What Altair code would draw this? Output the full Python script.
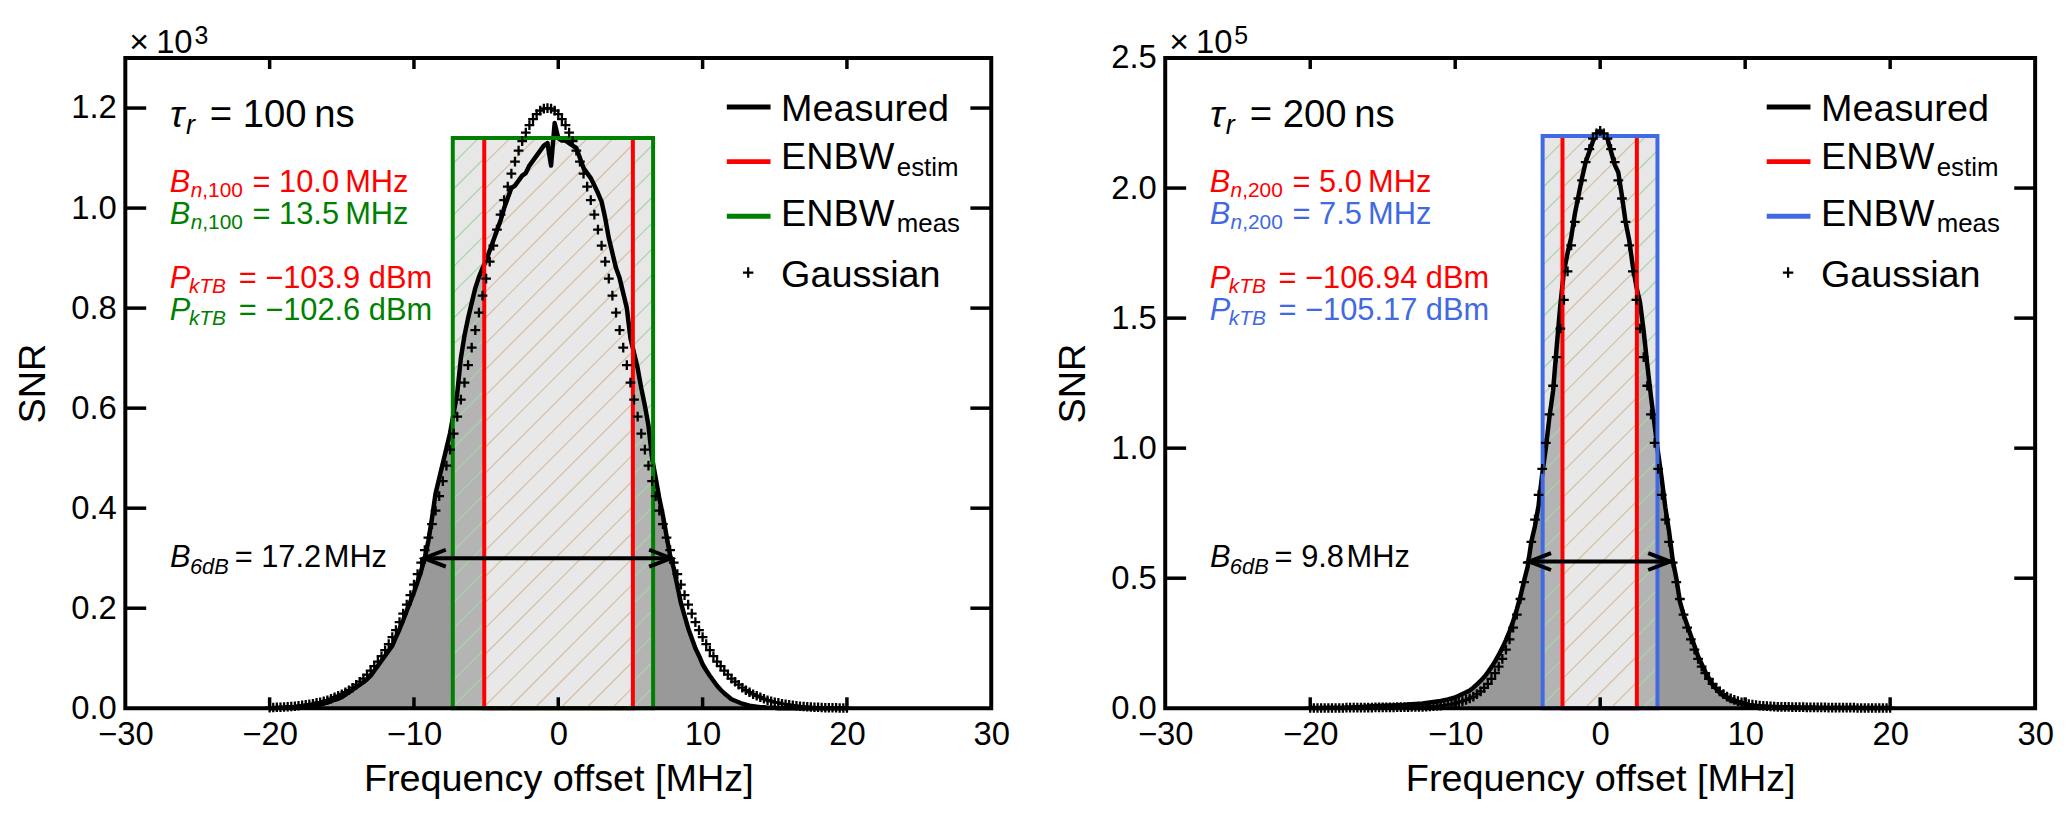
import altair as alt
import pandas as pd

# ---------------- data ----------------
X_START = -20.0   # first sample of traces [MHz]
X_STEP = 0.25     # sample spacing [MHz]

# tau_r = 100 ns  (SNR in units of 1e3)
MEAS_100 = [
    0.0, 0.0, 0.001, 0.001, 0.001, 0.002, 0.002, 0.002, 0.003, 0.003,
    0.004, 0.005, 0.006, 0.007, 0.008, 0.010, 0.012, 0.014, 0.017, 0.019,
    0.022, 0.027, 0.032, 0.037, 0.042, 0.047, 0.052, 0.058, 0.065, 0.075,
    0.085, 0.095, 0.105, 0.115, 0.125, 0.142, 0.158, 0.176, 0.195, 0.213,
    0.232, 0.253, 0.275, 0.300, 0.335, 0.380, 0.430, 0.460, 0.490, 0.520,
    0.550, 0.590, 0.630, 0.700, 0.745, 0.780, 0.810, 0.840, 0.862, 0.880,
    0.895, 0.915, 0.935, 0.955, 0.975, 1.000, 1.020, 1.040, 1.045, 1.055,
    1.065, 1.070, 1.085, 1.095, 1.105, 1.115, 1.125, 1.130, 1.085, 1.170,
    1.140, 1.135, 1.135, 1.130, 1.125, 1.120, 1.100, 1.080, 1.070, 1.060,
    1.045, 1.030, 1.013, 0.980, 0.940, 0.910, 0.880, 0.860, 0.830, 0.800,
    0.740, 0.710, 0.680, 0.640, 0.605, 0.565, 0.500, 0.460, 0.420, 0.385,
    0.345, 0.305, 0.280, 0.245, 0.210, 0.185, 0.160, 0.140, 0.120, 0.105,
    0.088, 0.076, 0.065, 0.055, 0.045, 0.037, 0.030, 0.024, 0.018, 0.015,
    0.012, 0.009, 0.007, 0.005, 0.004, 0.003, 0.002, 0.002, 0.001, 0.001,
    0.001, 0.0, 0.0, 0.0, 0.0, 0.0, 0.0, 0.0, 0.0, 0.0,
    0.0, 0.0, 0.0, 0.0, 0.0, 0.0, 0.0, 0.0, 0.0, 0.0,
    0.0,
]
GAUSS_100 = [
    0.001, 0.0015, 0.002, 0.002, 0.0025, 0.003, 0.0035, 0.004, 0.005, 0.006,
    0.007, 0.008, 0.009, 0.011, 0.012, 0.014, 0.016, 0.019, 0.022, 0.025,
    0.028, 0.032, 0.036, 0.041, 0.047, 0.053, 0.059, 0.067, 0.075, 0.084,
    0.093, 0.104, 0.116, 0.128, 0.142, 0.156, 0.172, 0.189, 0.207, 0.226,
    0.247, 0.268, 0.291, 0.316, 0.341, 0.368, 0.395, 0.424, 0.454, 0.485,
    0.517, 0.549, 0.583, 0.617, 0.651, 0.686, 0.721, 0.756, 0.791, 0.825,
    0.859, 0.893, 0.925, 0.957, 0.987, 1.016, 1.043, 1.069, 1.093, 1.115,
    1.134, 1.151, 1.166, 1.178, 1.188, 1.195, 1.199, 1.200, 1.199, 1.195,
    1.188, 1.178, 1.166, 1.151, 1.134, 1.115, 1.093, 1.069, 1.043, 1.016,
    0.987, 0.957, 0.925, 0.893, 0.859, 0.825, 0.791, 0.756, 0.721, 0.686,
    0.651, 0.617, 0.583, 0.549, 0.517, 0.485, 0.454, 0.424, 0.395, 0.368,
    0.341, 0.316, 0.291, 0.268, 0.247, 0.226, 0.207, 0.189, 0.172, 0.156,
    0.142, 0.128, 0.116, 0.104, 0.093, 0.084, 0.075, 0.067, 0.059, 0.053,
    0.047, 0.041, 0.036, 0.032, 0.028, 0.025, 0.022, 0.019, 0.016, 0.014,
    0.012, 0.011, 0.009, 0.008, 0.007, 0.006, 0.005, 0.004, 0.0035, 0.003,
    0.0025, 0.002, 0.002, 0.0015, 0.001, 0.001, 0.001, 0.001, 0.0005, 0.0005,
    0.0005,
]

# tau_r = 200 ns  (SNR in units of 1e5)
MEAS_200 = [
    0.001, 0.001, 0.001, 0.001, 0.002, 0.002, 0.002, 0.002, 0.002, 0.002,
    0.003, 0.003, 0.004, 0.004, 0.005, 0.006, 0.007, 0.008, 0.009, 0.009,
    0.010, 0.010, 0.011, 0.011, 0.012, 0.012, 0.013, 0.014, 0.015, 0.016,
    0.017, 0.018, 0.020, 0.022, 0.024, 0.026, 0.028, 0.031, 0.034, 0.038,
    0.042, 0.048, 0.055, 0.061, 0.068, 0.079, 0.092, 0.105, 0.120, 0.138,
    0.158, 0.180, 0.205, 0.232, 0.262, 0.296, 0.335, 0.380, 0.430, 0.490,
    0.545, 0.640, 0.700, 0.780, 0.900, 1.000, 1.120, 1.220, 1.390, 1.550,
    1.680, 1.750, 1.810, 1.900, 1.970, 2.040, 2.100, 2.140, 2.180, 2.210,
    2.220, 2.200, 2.190, 2.140, 2.090, 2.060, 1.970, 1.870, 1.800, 1.700,
    1.620, 1.560, 1.450, 1.320, 1.200, 1.090, 0.980, 0.880, 0.770, 0.680,
    0.570, 0.500, 0.410, 0.360, 0.320, 0.280, 0.240, 0.200, 0.170, 0.140,
    0.115, 0.090, 0.075, 0.060, 0.048, 0.040, 0.030, 0.026, 0.022, 0.018,
    0.015, 0.012, 0.010, 0.009, 0.008, 0.007, 0.006, 0.006, 0.005, 0.005,
    0.004, 0.004, 0.004, 0.004, 0.003, 0.003, 0.003, 0.003, 0.003, 0.003,
    0.002, 0.002, 0.002, 0.002, 0.002, 0.002, 0.002, 0.002, 0.002, 0.002,
    0.002, 0.002, 0.001, 0.001, 0.001, 0.001, 0.001, 0.001, 0.001, 0.001,
    0.001,
]
GAUSS_200 = [
    0.001, 0.001, 0.001, 0.001, 0.001, 0.001, 0.001, 0.001, 0.001, 0.001,
    0.002, 0.002, 0.002, 0.002, 0.002, 0.002, 0.002, 0.002, 0.003, 0.003,
    0.003, 0.003, 0.003, 0.003, 0.004, 0.004, 0.004, 0.004, 0.005, 0.005,
    0.005, 0.005, 0.006, 0.007, 0.008, 0.009, 0.010, 0.012, 0.014, 0.016,
    0.019, 0.023, 0.027, 0.032, 0.038, 0.045, 0.054, 0.065, 0.078, 0.094,
    0.113, 0.135, 0.160, 0.190, 0.225, 0.265, 0.310, 0.360, 0.420, 0.485,
    0.560, 0.640, 0.725, 0.820, 0.920, 1.020, 1.130, 1.240, 1.350, 1.460,
    1.570, 1.680, 1.780, 1.870, 1.960, 2.030, 2.100, 2.150, 2.190, 2.210,
    2.220,
    2.210, 2.190, 2.150, 2.100, 2.030, 1.960, 1.870, 1.780, 1.680, 1.570,
    1.460, 1.350, 1.240, 1.130, 1.020, 0.920, 0.820, 0.725, 0.640, 0.560,
    0.485, 0.420, 0.360, 0.310, 0.265, 0.225, 0.190, 0.160, 0.135, 0.113,
    0.094, 0.078, 0.065, 0.054, 0.045, 0.038, 0.032, 0.027, 0.023, 0.019,
    0.016, 0.014, 0.012, 0.010, 0.009, 0.008, 0.007, 0.006, 0.005, 0.005,
    0.005, 0.005, 0.004, 0.004, 0.004, 0.004, 0.003, 0.003, 0.003, 0.003,
    0.003, 0.003, 0.002, 0.002, 0.002, 0.002, 0.002, 0.002, 0.002, 0.002,
    0.001, 0.001, 0.001, 0.001, 0.001, 0.001, 0.001, 0.001, 0.001, 0.001,
]

X_TICKS = [-30, -20, -10, 0, 10, 20, 30]
X_INNER_TICKS = [-20, -10, 0, 10, 20]
Y_TICKS_100 = [0.0, 0.2, 0.4, 0.6, 0.8, 1.0, 1.2]
Y_INNER_100 = [0.2, 0.4, 0.6, 0.8, 1.0, 1.2]
Y_TICKS_200 = [0.0, 0.5, 1.0, 1.5, 2.0, 2.5]
Y_INNER_200 = [0.5, 1.0, 1.5, 2.0]
Y_MAX_100 = 1.3
Y_MAX_200 = 2.5

ENBW_ESTIM_100 = [-5.13, 5.17]
ENBW_MEAS_100 = [-7.31, 6.57]
ENBW_TOP_100 = 1.14
ENBW_ESTIM_200 = [-2.6, 2.53]
ENBW_MEAS_200 = [-3.97, 3.95]
ENBW_TOP_200 = 2.2

B6DB_100 = [-9.31, 7.81]
B6DB_Y_100 = 0.30
B6DB_200 = [-4.9, 4.82]
B6DB_Y_200 = 0.564

# ---------------- style ----------------
FONT = "Liberation Sans"
RED = "#ff0000"
GREEN = "#008000"
BLUE = "#4169e1"
H = 654
W_L = 871
W_R = 875
PLUS = "M-1,0L1,0M0,-1L0,1"
CHEV_L = "M1,-0.386L0,0L1,0.386"
CHEV_R = "M-1,-0.386L0,0L-1,0.386"


def hatch(xl, xr, top, W, ymax, spacing=26.0):
    kx = W / 60.0
    ky = H / ymax
    segs = []
    x0 = xl - top * ky / kx
    while x0 < xr:
        t0 = max(0.0, (xl - x0) * kx)
        t1 = min(top * ky, (xr - x0) * kx)
        if t1 > t0:
            segs.append({"x": x0 + t0 / kx, "y": t0 / ky,
                         "x2": x0 + t1 / kx, "y2": t1 / ky})
        x0 += spacing / kx
    return pd.DataFrame(segs)


def panel(meas, gauss, ymax, yticks, yinner, estim, measr, rtop, arrow, arrow_y,
          W, mcolor, tau_txt, nsub, bn_e, bn_m, p_e, p_m, b6_txt, sup):
    X = alt.X("x:Q", scale=alt.Scale(domain=[-30, 30], nice=False, zero=False),
              axis=alt.Axis(values=X_TICKS, format="d", title="Frequency offset [MHz]",
                            labelFlush=False, labelOverlap=False))
    Y = alt.Y("y:Q", scale=alt.Scale(domain=[0, ymax], nice=False, zero=False),
              axis=alt.Axis(values=yticks, format=".1f", title="SNR",
                            labelFlush=False, labelOverlap=False))

    def fx(px):
        return -30.0 + 60.0 * px / W

    def fy(py):
        return ymax * (1.0 - py / H)

    dm = pd.DataFrame({"x": [X_START + X_STEP * i for i in range(len(meas))], "y": meas})
    dg = pd.DataFrame({"x": [X_START + X_STEP * i for i in range(len(gauss))], "y": gauss})
    r_est = pd.DataFrame({"x": [estim[0]], "x2": [estim[1]], "y": [0.0], "y2": [rtop]})
    r_mea = pd.DataFrame({"x": [measr[0]], "x2": [measr[1]], "y": [0.0], "y2": [rtop]})

    layers = []
    layers.append(alt.Chart(dm).mark_area(color="#999999", opacity=1).encode(x=X, y=Y))
    layers.append(alt.Chart(r_mea).mark_rect(fill="#d0d0d0", fillOpacity=0.5, strokeWidth=0)
                  .encode(x=X, x2=alt.X2("x2"), y=Y, y2=alt.Y2("y2")))
    layers.append(alt.Chart(hatch(measr[0], measr[1], rtop, W, ymax))
                  .mark_rule(color="#a8d4a8", strokeWidth=1.2)
                  .encode(x=X, x2=alt.X2("x2"), y=Y, y2=alt.Y2("y2")))
    layers.append(alt.Chart(r_est).mark_rect(fill="#e8e8e8", fillOpacity=1, strokeWidth=0)
                  .encode(x=X, x2=alt.X2("x2"), y=Y, y2=alt.Y2("y2")))
    layers.append(alt.Chart(hatch(estim[0], estim[1], rtop, W, ymax))
                  .mark_rule(color="#d6bea4", strokeWidth=1.2)
                  .encode(x=X, x2=alt.X2("x2"), y=Y, y2=alt.Y2("y2")))
    layers.append(alt.Chart(dm).mark_line(color="black", strokeWidth=4.5, strokeJoin="round")
                  .encode(x=X, y=Y))
    layers.append(alt.Chart(r_est).mark_rect(fillOpacity=0, stroke=RED, strokeWidth=4)
                  .encode(x=X, x2=alt.X2("x2"), y=Y, y2=alt.Y2("y2")))
    layers.append(alt.Chart(r_mea).mark_rect(fillOpacity=0, stroke=mcolor, strokeWidth=4)
                  .encode(x=X, x2=alt.X2("x2"), y=Y, y2=alt.Y2("y2")))
    layers.append(alt.Chart(dg).mark_point(shape=PLUS, size=95, filled=False, stroke="black",
                                           strokeWidth=2.3, opacity=1)
                  .encode(x=X, y=Y))

    # B6dB arrow
    da = pd.DataFrame({"x": [arrow[0]], "x2": [arrow[1]], "y": [arrow_y]})
    layers.append(alt.Chart(da).mark_rule(color="black", strokeWidth=4).encode(
        x=X, x2=alt.X2("x2"), y=Y))
    layers.append(alt.Chart(pd.DataFrame({"x": [arrow[0]], "y": [arrow_y]}))
                  .mark_point(shape=CHEV_L, size=1936, filled=False, stroke="black",
                              strokeWidth=4, opacity=1, strokeJoin="miter")
                  .encode(x=X, y=Y))
    layers.append(alt.Chart(pd.DataFrame({"x": [arrow[1]], "y": [arrow_y]}))
                  .mark_point(shape=CHEV_R, size=1936, filled=False, stroke="black",
                              strokeWidth=4, opacity=1, strokeJoin="miter")
                  .encode(x=X, y=Y))

    # legend samples
    dl = pd.DataFrame({"x": [fx(605)] * 3, "x2": [fx(649)] * 3,
                       "y": [fy(49.2), fy(104.2), fy(159.2)],
                       "c": ["black", RED, mcolor]})
    layers.append(alt.Chart(dl).mark_rule(strokeWidth=5).encode(
        x=X, x2=alt.X2("x2"), y=Y, color=alt.Color("c:N", scale=None)))
    layers.append(alt.Chart(pd.DataFrame({"x": [fx(626.5)], "y": [fy(215.8)]}))
                  .mark_point(shape=PLUS, size=110, filled=False, stroke="black",
                              strokeWidth=2.2, opacity=1)
                  .encode(x=X, y=Y))

    K = "black"
    italic_rows = [
        ("\u03c4", 45, 69.5, 38, K), ("r", 61, 76, 27, K),
        ("B", 44.7, 134.5, 31, RED), ("n", 65.7, 139.5, 21, RED),
        ("B", 44.7, 167, 31, mcolor), ("n", 65.7, 172, 21, mcolor),
        ("P", 44.7, 231, 31, RED), ("kTB", 64, 236.5, 21, RED),
        ("P", 44.7, 263.5, 31, mcolor), ("kTB", 64, 269, 21, mcolor),
        ("B", 45, 512, 31, K), ("6dB", 65, 518.5, 22, K),
    ]
    normal_rows = [
        (tau_txt, 85, 69.5, 38.5, K),
        (nsub, 77.4, 139.5, 21, RED), (bn_e, 128, 134.5, 31, RED),
        (nsub, 77.4, 172, 21, mcolor), (bn_m, 128, 167, 31, mcolor),
        (p_e, 114, 231, 31, RED), (p_m, 114, 263.5, 31, mcolor),
        (b6_txt, 110, 512, 31, K),
        ("Measured", 659.6, 63.5, 38, K),
        ("ENBW", 659.6, 111.8, 38, K), ("estim", 776, 118.5, 26, K),
        ("ENBW", 659.6, 168.5, 38, K), ("meas", 776, 174.5, 26, K),
        ("Gaussian", 659.6, 230.2, 38, K),
        ("\u00d7", 4, -4.8, 34, K), ("10", 31, -4.8, 33, K), (sup, 69.5, -14.5, 25, K),
    ]
    for rows, style in ((italic_rows, "italic"), (normal_rows, "normal")):
        dt = pd.DataFrame({"text": [r[0] for r in rows],
                           "x": [fx(r[1]) for r in rows],
                           "y": [fy(r[2]) for r in rows],
                           "fs": [r[3] for r in rows],
                           "c": [r[4] for r in rows]})
        layers.append(alt.Chart(dt).mark_text(font=FONT, fontStyle=style, align="left",
                                              baseline="alphabetic")
                      .encode(x=X, y=Y, text="text:N",
                              size=alt.Size("fs:Q", scale=None),
                              color=alt.Color("c:N", scale=None)))

    # inward ticks on all four sides
    dyt = pd.DataFrame({"y": yinner})
    dxt = pd.DataFrame({"x": X_INNER_TICKS})
    layers.append(alt.Chart(dyt).mark_rule(color="black", strokeWidth=3.5)
                  .encode(y=Y, x=alt.value(0), x2=alt.value(21)))
    layers.append(alt.Chart(dyt).mark_rule(color="black", strokeWidth=3.5)
                  .encode(y=Y, x=alt.value(W - 21), x2=alt.value(W)))
    layers.append(alt.Chart(dxt).mark_rule(color="black", strokeWidth=3.5)
                  .encode(x=X, y=alt.value(H - 11), y2=alt.value(H)))
    layers.append(alt.Chart(dxt).mark_rule(color="black", strokeWidth=3.5)
                  .encode(x=X, y=alt.value(0), y2=alt.value(11)))
    # frame
    layers.append(alt.Chart(pd.DataFrame({"a": [0]})).mark_rect(
        fillOpacity=0, stroke="black", strokeWidth=4)
        .encode(x=alt.value(0), x2=alt.value(W), y=alt.value(0), y2=alt.value(H)))

    return alt.layer(*layers).properties(width=W, height=H)


left = panel(MEAS_100, GAUSS_100, Y_MAX_100, Y_TICKS_100, Y_INNER_100,
             ENBW_ESTIM_100, ENBW_MEAS_100, ENBW_TOP_100, B6DB_100, B6DB_Y_100,
             W_L, GREEN, "= 100\u2009ns", ",100",
             "= 10.0\u2009MHz", "= 13.5\u2009MHz",
             "= \u2212103.9 dBm", "= \u2212102.6 dBm", "= 17.2\u200aMHz", "3")
right = panel(MEAS_200, GAUSS_200, Y_MAX_200, Y_TICKS_200, Y_INNER_200,
              ENBW_ESTIM_200, ENBW_MEAS_200, ENBW_TOP_200, B6DB_200, B6DB_Y_200,
              W_R, BLUE, "= 200\u2009ns", ",200",
              "= 5.0\u2009MHz", "= 7.5\u2009MHz",
              "= \u2212106.94 dBm", "= \u2212105.17 dBm", "= 9.8\u200aMHz", "5")

chart = (
    alt.hconcat(left, right, spacing=45)
    .properties(padding={"left": 7, "top": 13, "right": 5, "bottom": 5})
    .configure_view(strokeWidth=0)
    .configure_axis(domain=False, ticks=False, tickSize=0, grid=False,
                    labelFont=FONT, labelFontSize=33, labelColor="black",
                    titleFont=FONT, titleFontSize=38, titleFontWeight="normal",
                    titleColor="black")
    .configure_axisX(labelPadding=10, titlePadding=10)
    .configure_axisY(labelPadding=9, titlePadding=18)
)

chart.save("out.html", embed_options={"renderer": "svg", "actions": False})
